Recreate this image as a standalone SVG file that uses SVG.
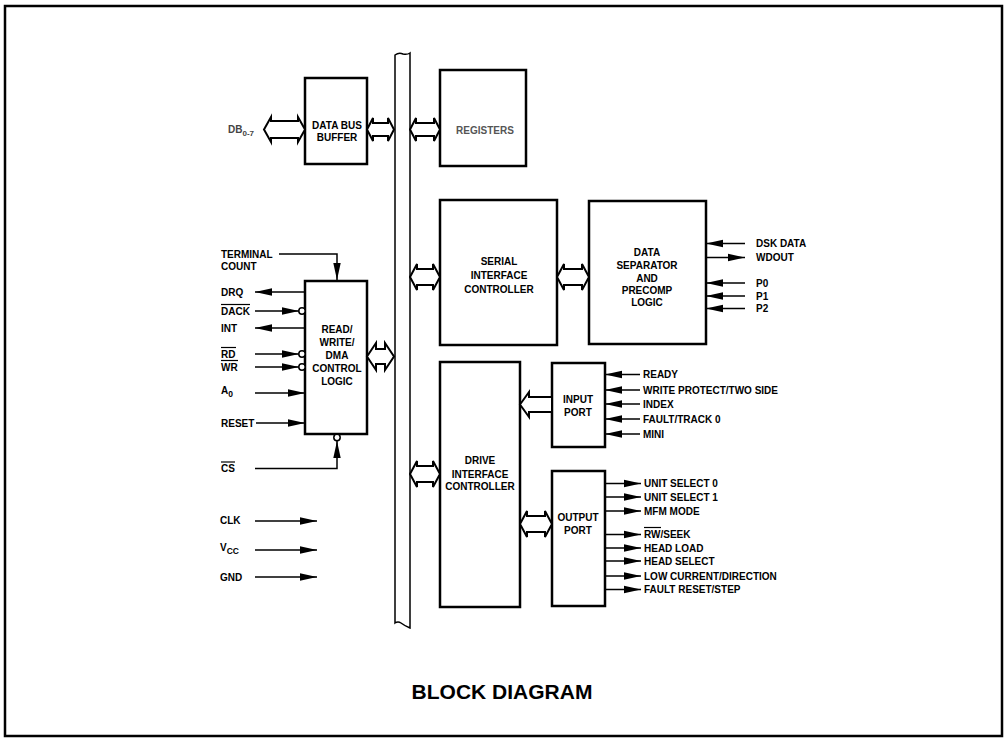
<svg xmlns="http://www.w3.org/2000/svg" width="1006" height="738" viewBox="0 0 1006 738">
<defs>
<style>
.t{font-family:"Liberation Sans",Arial,Helvetica,sans-serif;font-size:10px;font-weight:bold;fill:#000}
.m{text-anchor:middle}
.box{fill:#fff;stroke:#000;stroke-width:2.5}
.ln{fill:none;stroke:#000;stroke-width:1.5}
.ha{fill:#fff;stroke:#000;stroke-width:2;stroke-linejoin:miter}
.bub{fill:#fff;stroke:#000;stroke-width:1.5}
.ob{stroke:#000;stroke-width:1.2}
</style>
<marker id="ah" markerUnits="userSpaceOnUse" markerWidth="18" markerHeight="9" refX="17" refY="4.5" orient="auto">
<path d="M0,0.8 L17,4.5 L0,8.2 Z" fill="#000"/>
</marker>
</defs>
<rect width="1006" height="738" fill="#fff"/>
<rect x="5" y="6" width="997" height="730" fill="none" stroke="#000" stroke-width="2.5"/>

<g id="bus">
<path d="M395,623 L395,55 Q399,52 403,54 Q407,55 410,53 L410,628 Q405,626 401,623 Q398,621 395,623 Z" fill="#fff" stroke="#000" stroke-width="1.5"/>
</g>

<g id="data-bus-buffer">
<rect class="box" x="305" y="78" width="62" height="86"/>
<text class="t m" x="337" y="128.5">DATA BUS</text>
<text class="t m" x="337" y="141">BUFFER</text>
</g>

<g id="registers">
<rect class="box" x="440" y="70" width="86" height="96"/>
<text class="t m" x="485" y="133.5" style="fill:#555">REGISTERS</text>
</g>

<g id="rw-dma">
<rect class="box" x="305" y="281" width="62" height="153"/>
<text class="t m" x="337" y="333">READ/</text>
<text class="t m" x="337" y="345.5">WRITE/</text>
<text class="t m" x="337" y="358.5">DMA</text>
<text class="t m" x="337" y="371.5">CONTROL</text>
<text class="t m" x="337" y="384.5">LOGIC</text>
</g>

<g id="serial-interface-controller">
<rect class="box" x="440" y="200" width="117" height="145"/>
<text class="t m" x="499" y="265">SERIAL</text>
<text class="t m" x="499" y="278.5">INTERFACE</text>
<text class="t m" x="499" y="292.5">CONTROLLER</text>
</g>

<g id="data-separator">
<rect class="box" x="589" y="201" width="117" height="143"/>
<text class="t m" x="647" y="256">DATA</text>
<text class="t m" x="647" y="268.5">SEPARATOR</text>
<text class="t m" x="647" y="281.5">AND</text>
<text class="t m" x="647" y="293.5">PRECOMP</text>
<text class="t m" x="647" y="306">LOGIC</text>
</g>

<g id="drive-interface-controller">
<rect class="box" x="440" y="362" width="80" height="245"/>
<text class="t m" x="480" y="464">DRIVE</text>
<text class="t m" x="480" y="477.5">INTERFACE</text>
<text class="t m" x="480" y="490">CONTROLLER</text>
</g>

<g id="input-port">
<rect class="box" x="552" y="363" width="53" height="84"/>
<text class="t m" x="578" y="403">INPUT</text>
<text class="t m" x="578" y="416">PORT</text>
</g>

<g id="output-port">
<rect class="box" x="552" y="471" width="53" height="135"/>
<text class="t m" x="578" y="521">OUTPUT</text>
<text class="t m" x="578" y="534">PORT</text>
</g>

<g id="connectors">
<path class="ha" d="M264,129.5 L271,117 L271,121 L298,121 L298,117 L305,129.5 L298,142 L298,138 L271,138 L271,142 Z"/>
<path class="ha" d="M367,129.5 L373,118 L373,123 L388,123 L388,118 L394,129.5 L388,141 L388,136 L373,136 L373,141 Z"/>
<path class="ha" d="M410,129.5 L416,118 L416,123 L434,123 L434,118 L440,129.5 L434,141 L434,136 L416,136 L416,141 Z"/>
<path class="ha" d="M367,356.5 L376,343 L376,349 L385,349 L385,343 L394,356.5 L385,370 L385,364 L376,364 L376,370 Z"/>
<path class="ha" d="M410,277 L417,264 L417,269 L433,269 L433,264 L440,277 L433,290 L433,285 L417,285 L417,290 Z"/>
<path class="ha" d="M557,277 L564,264 L564,269 L582,269 L582,264 L589,277 L582,290 L582,285 L564,285 L564,290 Z"/>
<path class="ha" d="M410,474 L417,461 L417,466 L433,466 L433,461 L440,474 L433,487 L433,482 L417,482 L417,487 Z"/>
<path class="ha" d="M520,524 L527,511 L527,516 L545,516 L545,511 L552,524 L545,537 L545,532 L527,532 L527,537 Z"/>
<path class="ha" d="M520,404.5 L529,392 L529,397 L552,397 L552,412 L529,412 L529,417 Z"/>

<path class="ln" d="M279,254 L337,254 L337,280" marker-end="url(#ah)"/>
<line class="ln" x1="305" y1="292" x2="255" y2="292" marker-end="url(#ah)"/>
<line class="ln" x1="255" y1="311" x2="299" y2="311" marker-end="url(#ah)"/>
<line class="ln" x1="305" y1="328" x2="255" y2="328" marker-end="url(#ah)"/>
<line class="ln" x1="255" y1="354" x2="299" y2="354" marker-end="url(#ah)"/>
<line class="ln" x1="255" y1="367" x2="299" y2="367" marker-end="url(#ah)"/>
<line class="ln" x1="255" y1="393" x2="305" y2="393" marker-end="url(#ah)"/>
<line class="ln" x1="256" y1="423" x2="305" y2="423" marker-end="url(#ah)"/>
<path class="ln" d="M255,468.5 L337,468.5 L337,441" marker-end="url(#ah)"/>
<circle class="bub" cx="302" cy="311" r="3.2"/>
<circle class="bub" cx="302" cy="354" r="3.2"/>
<circle class="bub" cx="302" cy="367" r="3.2"/>
<circle class="bub" cx="337" cy="437.5" r="3.2"/>
<line class="ln" x1="255" y1="521" x2="317" y2="521" marker-end="url(#ah)"/>
<line class="ln" x1="255" y1="550" x2="317" y2="550" marker-end="url(#ah)"/>
<line class="ln" x1="255" y1="577" x2="317" y2="577" marker-end="url(#ah)"/>

<line class="ln" x1="745" y1="243.5" x2="706" y2="243.5" marker-end="url(#ah)"/>
<line class="ln" x1="706" y1="257.5" x2="745" y2="257.5" marker-end="url(#ah)"/>
<line class="ln" x1="745" y1="283" x2="706" y2="283" marker-end="url(#ah)"/>
<line class="ln" x1="745" y1="296" x2="706" y2="296" marker-end="url(#ah)"/>
<line class="ln" x1="745" y1="308.5" x2="706" y2="308.5" marker-end="url(#ah)"/>

<line class="ln" x1="640" y1="374.5" x2="605" y2="374.5" marker-end="url(#ah)"/>
<line class="ln" x1="640" y1="390" x2="605" y2="390" marker-end="url(#ah)"/>
<line class="ln" x1="640" y1="404" x2="605" y2="404" marker-end="url(#ah)"/>
<line class="ln" x1="640" y1="419" x2="605" y2="419" marker-end="url(#ah)"/>
<line class="ln" x1="640" y1="434" x2="605" y2="434" marker-end="url(#ah)"/>

<line class="ln" x1="605" y1="483.5" x2="641" y2="483.5" marker-end="url(#ah)"/>
<line class="ln" x1="605" y1="497" x2="641" y2="497" marker-end="url(#ah)"/>
<line class="ln" x1="605" y1="511" x2="641" y2="511" marker-end="url(#ah)"/>
<line class="ln" x1="605" y1="534.5" x2="641" y2="534.5" marker-end="url(#ah)"/>
<line class="ln" x1="605" y1="548" x2="641" y2="548" marker-end="url(#ah)"/>
<line class="ln" x1="605" y1="561" x2="641" y2="561" marker-end="url(#ah)"/>
<line class="ln" x1="605" y1="576" x2="641" y2="576" marker-end="url(#ah)"/>
<line class="ln" x1="605" y1="589.5" x2="641" y2="589.5" marker-end="url(#ah)"/>
</g>

<g id="labels">
<text class="t" x="228" y="133" style="fill:#444">DB<tspan font-size="8" dy="2.5">0-7</tspan></text>
<text class="t" x="221" y="257.5">TERMINAL</text>
<text class="t" x="221" y="269.5">COUNT</text>
<text class="t" x="221" y="295.5">DRQ</text>
<text class="t" x="221" y="314.5">DACK</text>
<line class="ob" x1="221" y1="304.5" x2="250" y2="304.5"/>
<text class="t" x="221" y="331.5">INT</text>
<text class="t" x="221" y="357.5">RD</text>
<line class="ob" x1="221" y1="347.5" x2="236" y2="347.5"/>
<text class="t" x="221" y="370.5">WR</text>
<line class="ob" x1="221" y1="360.5" x2="238" y2="360.5"/>
<text class="t" x="221" y="394">A<tspan font-size="8.5" dy="2.5">0</tspan></text>
<text class="t" x="221" y="426.5">RESET</text>
<text class="t" x="221" y="472">CS</text>
<line class="ob" x1="221" y1="462" x2="235" y2="462"/>
<text class="t" x="220" y="523.5">CLK</text>
<text class="t" x="220" y="551">V<tspan font-size="8.5" dy="2.5">CC</tspan></text>
<text class="t" x="220" y="580.5">GND</text>

<text class="t" x="756" y="247">DSK DATA</text>
<text class="t" x="756" y="261">WDOUT</text>
<text class="t" x="756" y="286.5">P0</text>
<text class="t" x="756" y="299.5">P1</text>
<text class="t" x="756" y="312">P2</text>

<text class="t" x="643" y="378">READY</text>
<text class="t" x="643" y="393.5">WRITE PROTECT/TWO SIDE</text>
<text class="t" x="643" y="407.5">INDEX</text>
<text class="t" x="643" y="422.5">FAULT/TRACK 0</text>
<text class="t" x="643" y="437.5">MINI</text>

<text class="t" x="644" y="487">UNIT SELECT 0</text>
<text class="t" x="644" y="500.5">UNIT SELECT 1</text>
<text class="t" x="644" y="514.5">MFM MODE</text>
<text class="t" x="644" y="538">RW/SEEK</text>
<line class="ob" x1="644" y1="527.5" x2="661" y2="527.5"/>
<text class="t" x="644" y="551.5">HEAD LOAD</text>
<text class="t" x="644" y="564.5">HEAD SELECT</text>
<text class="t" x="644" y="579.5">LOW CURRENT/DIRECTION</text>
<text class="t" x="644" y="593">FAULT RESET/STEP</text>

<text class="t m" x="502" y="699" style="font-size:21px">BLOCK DIAGRAM</text>
</g>
</svg>
